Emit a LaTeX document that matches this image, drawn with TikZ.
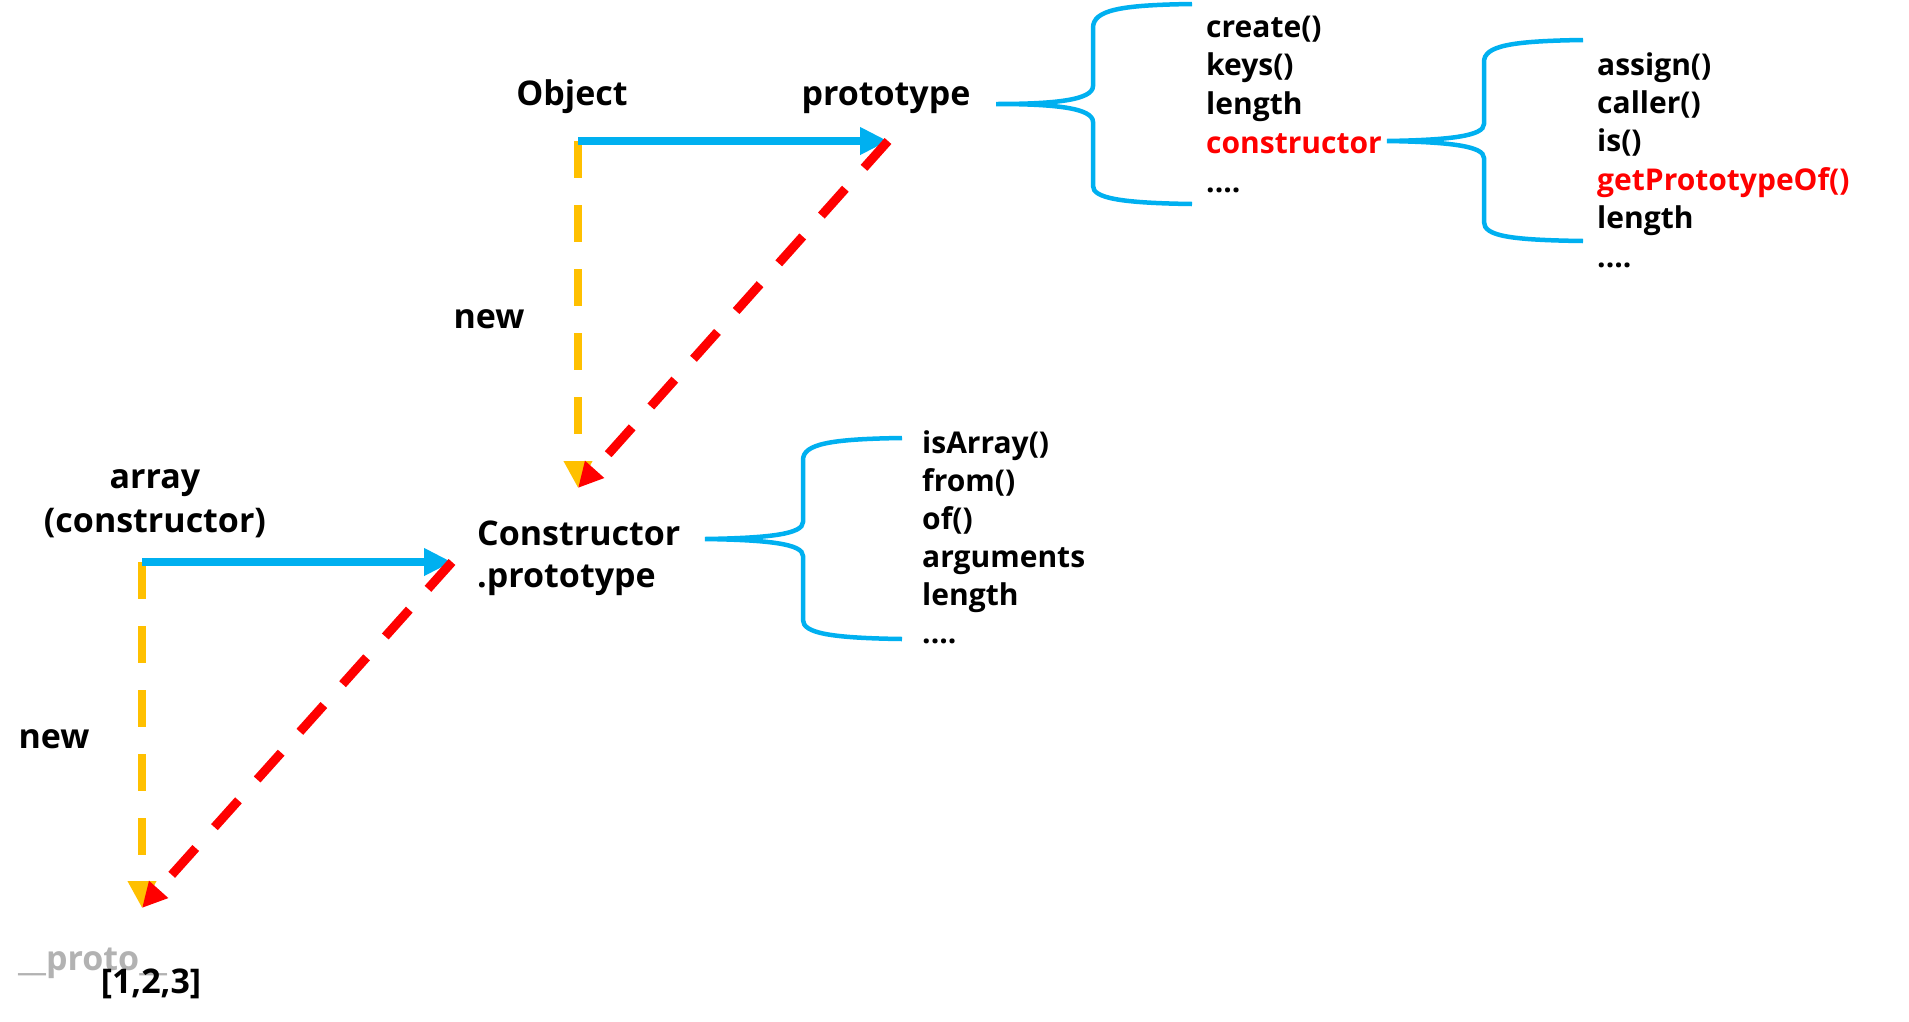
\documentclass[tikz,border=0pt]{standalone}
\usepackage{fontspec}
\setmainfont{Open Sans}
\usepackage{xcolor}
\usepackage{tikz}
\usetikzlibrary{arrows.meta}

\definecolor{lineblue}{HTML}{00B0F0}
\definecolor{neworange}{HTML}{FFC000}
\definecolor{protored}{HTML}{FF0000}
\definecolor{protogray}{HTML}{B2B2B2}

\tikzset{
  lbl/.style={inner sep=0pt, font=\bfseries\fontsize{34}{42}\selectfont},
  lst/.style={inner sep=0pt, align=left, anchor=base west, font=\bfseries\fontsize{30}{38.5}\selectfont},
  linkarrow/.style={lineblue, line width=8pt, -{Triangle[length=28pt,width=26pt]}},
  newarrow/.style={neworange, line width=8pt, dash pattern=on 37pt off 27pt, -{Triangle[length=27pt,width=27pt]}},
  protoarrow/.style={protored, line width=9pt, dash pattern=on 36pt off 28pt, -{Triangle[length=25pt,width=24pt]}},
  bracket/.style={lineblue, line width=4.5pt},
}

\begin{document}
\begin{tikzpicture}[x=1pt, y=-1pt]
            \useasboundingbox (0,0) rectangle (1909,1021);

            % labels (multi-line nodes sit on their last line)
            \node[lbl, anchor=base] (obj) at (572,105) {Object};
            \node[lbl, anchor=base] (proto) at (886,105) {prototype};
            \node[lbl, anchor=base] (new1) at (489,328) {new};
            \node[lbl, anchor=base west, align=left] (cproto) at (477,587) {Constructor\\.prototype};
            \node[lbl, anchor=base, align=center, font=\bfseries\fontsize{34}{44}\selectfont] (arr) at (155,532) {array\\(constructor)};
            \node[lbl, anchor=base] (new2) at (54,748) {new};
            \node[lbl, anchor=base west, text=protogray] (protolbl) at (18,970) {\_\_proto\_\_};
            \node[lbl, anchor=base] (inst) at (151,993) {[1,2,3]};

            % member lists
            \node[lst, font=\bfseries\fontsize{30}{38.75}\selectfont] (objlist) at (1206,192) {create()\\keys()\\length\\\textcolor{protored}{constructor}\\....};
            \node[lst, font=\bfseries\fontsize{30}{38.4}\selectfont] (funclist) at (1597,267) {assign()\\caller()\\is()\\\textcolor{protored}{getPrototypeOf()}\\length\\....};
            \node[lst, font=\bfseries\fontsize{30}{38}\selectfont] (arrlist) at (922,643) {isArray()\\from()\\of()\\arguments\\length\\....};

            % arrow ends
            \coordinate (objpt) at (578,141);
            \coordinate (protopt) at (888,141);
            \coordinate (cpt) at (578,488);
            \coordinate (arrpt) at (142,562);
            \coordinate (cppt) at (452,562);
            \coordinate (instpt) at (142,908);

            \draw[newarrow] (objpt) -- (cpt);
            \draw[linkarrow] (objpt) -- (protopt);
            \draw[protoarrow] (protopt) -- (cpt);

            \draw[newarrow] (arrpt) -- (instpt);
            \draw[linkarrow] (arrpt) -- (cppt);
            \draw[protoarrow] (cppt) -- (instpt);

            % braces
            \draw[bracket] (1192,4) .. controls (1120,5) and (1093,10) .. (1093,28) -- (1093,86)
                .. controls (1093,100) and (1055,104) .. (996,104)
                .. controls (1055,104) and (1093,108) .. (1093,122) -- (1093,186)
                .. controls (1093,198) and (1120,203) .. (1192,204);
            \draw[bracket] (1583,40) .. controls (1510,41) and (1484,46) .. (1484,62) -- (1484,124)
                .. controls (1484,136) and (1450,140) .. (1387,141)
                .. controls (1450,142) and (1484,146) .. (1484,158) -- (1484,222)
                .. controls (1484,236) and (1510,240) .. (1583,241);
            \draw[bracket] (902,438) .. controls (830,439) and (803,444) .. (803,460) -- (803,522)
                .. controls (803,534) and (770,538) .. (705,539)
                .. controls (770,540) and (803,544) .. (803,556) -- (803,620)
                .. controls (803,633) and (830,638) .. (902,639);

\end{tikzpicture}
\end{document}
